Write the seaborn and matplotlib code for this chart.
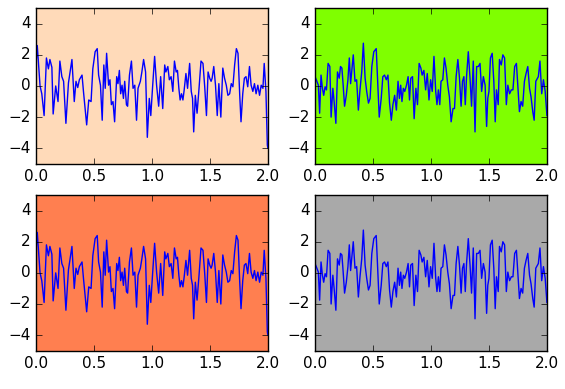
import matplotlib
matplotlib.use("Agg")
import matplotlib.pyplot as plt
import seaborn as sns

# signal shown in the two left panels
t_left = [0.0, 0.011, 0.035, 0.05, 0.07, 0.09, 0.107, 0.12, 0.137, 0.148,
          0.17, 0.19, 0.206, 0.223, 0.238, 0.258, 0.28, 0.31, 0.33, 0.345,
          0.36, 0.374, 0.397, 0.41, 0.437, 0.455, 0.475, 0.49, 0.51, 0.528,
          0.54, 0.556, 0.571, 0.585, 0.597, 0.609, 0.626, 0.638, 0.65, 0.664,
          0.678, 0.696, 0.707, 0.719, 0.73, 0.742, 0.754, 0.765, 0.78, 0.79,
          0.806, 0.823, 0.837, 0.852, 0.867, 0.88, 0.9, 0.913, 0.928, 0.945,
          0.96, 0.977, 0.99, 1.006, 1.023, 1.04, 1.058, 1.075, 1.093, 1.11,
          1.12, 1.137, 1.15, 1.165, 1.18, 1.194, 1.209, 1.22, 1.232, 1.243,
          1.255, 1.267, 1.278, 1.293, 1.307, 1.325, 1.339, 1.35, 1.36, 1.374,
          1.389, 1.406, 1.423, 1.44, 1.455, 1.47, 1.484, 1.498, 1.51, 1.519,
          1.533, 1.548, 1.563, 1.577, 1.594, 1.611, 1.626, 1.641, 1.655, 1.67,
          1.684, 1.698, 1.713, 1.728, 1.742, 1.757, 1.768, 1.783, 1.797, 1.811,
          1.826, 1.841, 1.855, 1.87, 1.884, 1.898, 1.913, 1.928, 1.942, 1.957,
          1.968, 1.983, 1.995, 2.0]
v_left = [1.35, 2.6, 0.0, -0.5, -1.9, 1.8, 1.1, 1.7, 1.2, -1.8,
          0.0, -1.0, 1.6, 0.6, 0.3, -2.4, 0.2, 1.7, -1.0, 0.3,
          -0.1, 0.4, 0.7, -0.4, -2.5, -0.9, -1.0, 1.1, 2.2, 2.4,
          0.7, 0.05, -2.2, 1.35, -0.15, 2.1, 0.05, 0.4, -1.2, -1.0,
          -2.3, 0.6, 0.15, 1.0, -0.5, 0.05, -0.8, 0.3, -1.2, -1.3,
          0.7, 1.6, -0.15, 0.05, -2.2, -0.15, 0.3, 0.9, 1.7, 0.9,
          -3.3, -0.8, -1.9, 0.0, 1.9, 0.05, -1.3, 0.6, -1.45, 1.35,
          0.9, 1.25, 0.4, 0.6, -0.35, 1.6, 0.9, 1.0, -0.15, -0.9,
          -0.5, -0.9, -0.25, 0.8, -0.15, 1.45, -0.35, -0.8, -2.95, -0.6,
          -1.75, -0.15, 1.6, 1.45, -0.05, -1.9, 0.9, 0.5, 0.3, 0.5,
          1.25, 0.05, -1.9, 0.15, -2.0, 1.15, 0.5, 0.05, -0.6, -0.5,
          0.15, -0.05, 1.35, 2.4, 2.1, -0.6, -2.3, -0.5, 0.5, 0.6,
          -0.05, 1.25, 0.05, -0.35, 0.15, -0.5, 0.05, -0.6, 0.05, -0.15,
          1.45, -0.35, -3.8, -4.0]

# signal shown in the two right panels
t_right = [0.0, 0.011, 0.029, 0.04, 0.052, 0.064, 0.075, 0.087, 0.099, 0.113,
           0.128, 0.139, 0.154, 0.165, 0.18, 0.194, 0.209, 0.22, 0.232, 0.243,
           0.255, 0.27, 0.284, 0.296, 0.307, 0.319, 0.33, 0.345, 0.359, 0.374,
           0.388, 0.403, 0.417, 0.432, 0.446, 0.461, 0.475, 0.49, 0.507, 0.528,
           0.542, 0.554, 0.571, 0.585, 0.6, 0.615, 0.629, 0.643, 0.658, 0.672,
           0.687, 0.702, 0.716, 0.728, 0.739, 0.75, 0.762, 0.774, 0.789, 0.803,
           0.815, 0.826, 0.841, 0.855, 0.87, 0.884, 0.898, 0.913, 0.924, 0.939,
           0.954, 0.968, 0.983, 0.997, 1.011, 1.026, 1.041, 1.052, 1.064, 1.076,
           1.087, 1.102, 1.116, 1.13, 1.145, 1.159, 1.174, 1.19, 1.203, 1.217,
           1.232, 1.246, 1.26, 1.272, 1.284, 1.296, 1.307, 1.322, 1.337, 1.35,
           1.365, 1.38, 1.394, 1.409, 1.423, 1.437, 1.452, 1.467, 1.48, 1.49,
           1.5, 1.513, 1.528, 1.542, 1.554, 1.565, 1.58, 1.591, 1.606, 1.62,
           1.635, 1.65, 1.663, 1.678, 1.693, 1.707, 1.722, 1.737, 1.75, 1.763,
           1.777, 1.791, 1.806, 1.82, 1.835, 1.85, 1.863, 1.878, 1.89, 1.904,
           1.926, 1.94, 1.955, 1.97, 1.985, 2.0]
v_right = [0.6, 0.4, 0.05, -1.75, 0.7, -0.15, -0.6, -0.05, -0.25, 1.45,
           1.25, -2.0, -0.15, -1.0, -2.4, 0.9, 0.5, 1.25, 1.15, 0.05,
           -1.3, -0.6, 0.4, 1.8, 0.15, 1.15, 2.0, 0.3, 0.4, -1.55,
           -0.25, 0.9, 2.75, 0.5, -0.35, -1.1, -0.8, 1.25, 2.2, 2.4,
           0.05, -2.0, -0.8, 0.6, 0.7, 0.4, 0.7, -1.1, -2.2, -1.2,
           -0.6, -1.55, 0.3, -0.8, 0.05, -1.0, -0.15, -0.35, 0.05, 0.6,
           -0.9, 0.5, 0.6, -2.1, -0.15, -1.2, 1.45, 1.15, 0.7, 1.0,
           -0.25, 0.8, -0.9, 0.4, -0.35, 1.9, -0.35, -1.2, -0.25, -1.2,
           0.3, 0.4, 1.8, 1.15, 0.05, -0.7, -2.3, -1.45, -1.45, 0.6,
           1.7, 0.5, -1.3, 0.3, 0.6, -1.2, 0.6, 2.2, 0.5, -1.3,
           1.6, -2.95, 1.25, 1.25, 1.45, -0.35, 0.6, 0.05, -2.6, -0.8,
           -0.35, 1.8, 2.1, 0.3, -2.3, -0.25, -1.2, 1.7, 1.35, 2.0,
           1.8, -1.2, 0.05, -0.5, -0.25, -0.25, 1.25, 1.45, -0.15, -1.65,
           -1.0, -1.3, 0.3, 0.8, 1.25, -0.15, -0.7, -1.65, -2.2, 0.3,
           0.6, 1.6, -0.5, 0.4, -0.35, -1.9]

face_colors = ['peachpuff', 'chartreuse', 'coral', 'darkgray']

plt.style.use('classic')
plt.rcParams['figure.facecolor'] = 'white'

fig, axes = plt.subplots(2, 2, figsize=(5.65, 3.89), dpi=100)
plt.subplots_adjust(left=0.0637, right=0.968, top=0.979, bottom=0.0985, wspace=0.203, hspace=0.201)

for i, ax in enumerate(axes.flat):
    ax.set_facecolor(face_colors[i])
    if i % 2 == 0:
        sns.lineplot(x=t_left, y=v_left, ax=ax, color='b', linewidth=1)
    else:
        sns.lineplot(x=t_right, y=v_right, ax=ax, color='b', linewidth=1)
    ax.set_xlim(0, 2)
    ax.set_ylim(-5, 5)
    ax.set_xticks([0.0, 0.5, 1.0, 1.5, 2.0])
    ax.set_yticks([-4, -2, 0, 2, 4])
    ax.tick_params(labelsize=11)

plt.savefig('out.png', dpi=100, facecolor='white')
